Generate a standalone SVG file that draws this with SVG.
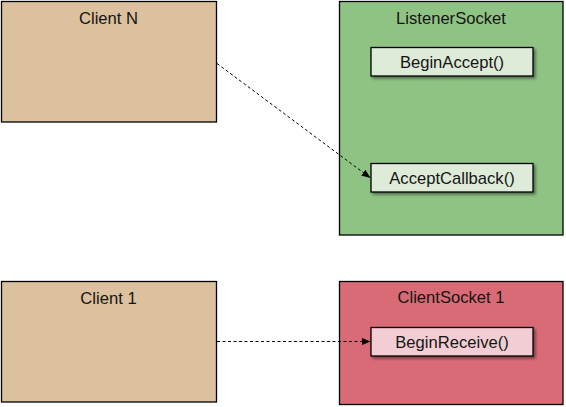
<svg xmlns="http://www.w3.org/2000/svg" width="566" height="407" viewBox="0 0 566 407">
<style>
.frame{stroke:#000;stroke-width:1.3}
.client{fill:#DBC19D}
.listener{fill:#8FC384}
.csock{fill:#D96B76}
.inner{stroke:#000;stroke-width:1.3;filter:url(#sh)}
.ig{fill:#DDEBD8}
.ip{fill:#F2CED4}
text{font-family:"Liberation Sans",Arial,sans-serif;font-size:16.6px;fill:#151515;text-anchor:middle}
.conn{stroke:#000;stroke-width:1;stroke-dasharray:3,2.5;fill:none;marker-end:url(#ah)}
</style>
<defs>
<filter id="sh" x="-10%" y="-20%" width="130%" height="160%">
<feDropShadow dx="2" dy="2" stdDeviation="1.5" flood-color="#000" flood-opacity="0.45"/>
</filter>
<marker id="ah" viewBox="0 0 10 10" refX="10" refY="5" markerWidth="9" markerHeight="9" markerUnits="userSpaceOnUse" orient="auto">
<path d="M0,1 L10,5 L0,9 Z" fill="#000"/>
</marker>
</defs>
<g id="client-n">
<rect class="frame client" x="1.5" y="1.5" width="215" height="120.5"/>
<text x="108.5" y="23.5">Client N</text>
</g>
<g id="listener-socket">
<rect class="frame listener" x="339.5" y="1.5" width="223.5" height="233.5"/>
<text x="451" y="23.5">ListenerSocket</text>
<g id="begin-accept">
<rect class="inner ig" x="371" y="47.5" width="162" height="28.5"/>
<text x="452" y="68">BeginAccept()</text>
</g>
<g id="accept-callback">
<rect class="inner ig" x="371" y="163.5" width="162" height="28.5"/>
<text x="452" y="183.5">AcceptCallback()</text>
</g>
</g>
<g id="client-1">
<rect class="frame client" x="1.5" y="281.5" width="215" height="120.5"/>
<text x="108.5" y="303.5">Client 1</text>
</g>
<g id="client-socket-1">
<rect class="frame csock" x="339.5" y="281.5" width="223.5" height="123"/>
<text x="451" y="303">ClientSocket 1</text>
<g id="begin-receive">
<rect class="inner ip" x="371" y="327.5" width="162" height="28.5"/>
<text x="452" y="348">BeginReceive()</text>
</g>
</g>
<g id="connectors">
<path class="conn" d="M217,63.5 L370.5,178"/>
<path class="conn" d="M217,341.5 L370.5,341.5"/>
</g>
</svg>
